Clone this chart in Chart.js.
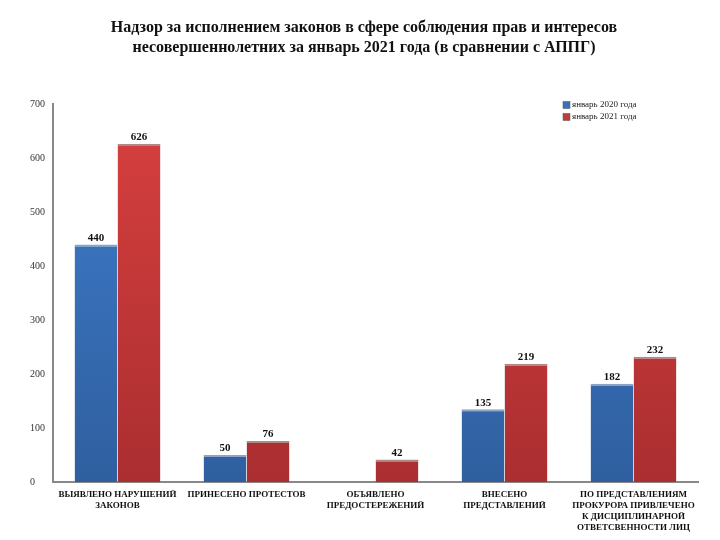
<!DOCTYPE html>
<html>
<head>
<meta charset="utf-8">
<script src="https://cdn.jsdelivr.net/npm/chart.js@4"></script>
<style>
  html, body { margin: 0; padding: 0; background: #fff; }
  #wrap { width: 720px; height: 540px; }
</style>
</head>
<body>
<div id="wrap"><canvas id="chart" width="720" height="540"></canvas></div>
<script>
// данные
const categories = [
  ['ВЫЯВЛЕНО НАРУШЕНИЙ', 'ЗАКОНОВ'],
  ['ПРИНЕСЕНО ПРОТЕСТОВ'],
  ['ОБЪЯВЛЕНО', 'ПРЕДОСТЕРЕЖЕНИЙ'],
  ['ВНЕСЕНО', 'ПРЕДСТАВЛЕНИЙ'],
  ['ПО ПРЕДСТАВЛЕНИЯМ', 'ПРОКУРОРА ПРИВЛЕЧЕНО', 'К ДИСЦИПЛИНАРНОЙ', 'ОТВЕТСВЕННОСТИ ЛИЦ']
];
const seriesNames = ['январь 2020 года', 'январь 2021 года'];
const values2020 = [440, 50, null, 135, 182];
const values2021 = [626, 76, 42, 219, 232];
const yTicks = [0, 100, 200, 300, 400, 500, 600, 700];

const SERIF = '"Liberation Serif", "Times New Roman", serif';

// градиент для столбцов
function barGradient(top, bottom) {
  return (ctx) => {
    const area = ctx.chart.chartArea;
    if (!area) return top;
    const g = ctx.chart.ctx.createLinearGradient(0, area.top, 0, area.bottom);
    g.addColorStop(0, top);
    g.addColorStop(1, bottom);
    return g;
  };
}

// подписи значений над столбцами
const valueLabels = {
  id: 'valueLabels',
  afterDatasetsDraw(chart) {
    const c = chart.ctx;
    c.save();
    c.font = 'bold 11px ' + SERIF;
    c.fillStyle = '#111';
    c.textAlign = 'center';
    c.textBaseline = 'bottom';
    chart.data.datasets.forEach((ds, i) => {
      chart.getDatasetMeta(i).data.forEach((bar, j) => {
        const v = ds.data[j];
        if (v == null) return;
        c.fillText(v, bar.x, bar.y - 1);
      });
    });
    c.restore();
  }
};

// легенда в правом верхнем углу
const cornerLegend = {
  id: 'cornerLegend',
  afterDraw(chart) {
    const c = chart.ctx;
    const a = chart.chartArea;
    const x = a.right - 135;
    c.save();
    c.font = '9px ' + SERIF;
    c.textBaseline = 'middle';
    chart.data.datasets.forEach((ds, i) => {
      const y = a.top + 1 + i * 12;
      c.fillStyle = ds.legendColor;
      c.fillRect(x, y - 3.5, 7, 7);
      c.strokeStyle = '#555';
      c.lineWidth = 0.5;
      c.strokeRect(x, y - 3.5, 7, 7);
      c.fillStyle = '#222';
      c.textAlign = 'left';
      c.fillText(ds.label, x + 9, y);
    });
    c.restore();
  }
};

new Chart(document.getElementById('chart'), {
  type: 'bar',
  data: {
    labels: categories,
    datasets: [
      {
        label: seriesNames[0],
        data: values2020,
        backgroundColor: barGradient('#3f7dcd', '#2f5f9f'),
        legendColor: '#3a70bb',
        borderColor: '#8fa3c2',
        borderWidth: { top: 2, left: 0.5, right: 0.5, bottom: 0 },
        borderSkipped: 'bottom'
      },
      {
        label: seriesNames[1],
        data: values2021,
        backgroundColor: barGradient('#d8403f', '#ab2e30'),
        legendColor: '#c23a3a',
        borderColor: '#b08888',
        borderWidth: { top: 2, left: 0.5, right: 0.5, bottom: 0 },
        borderSkipped: 'bottom'
      }
    ]
  },
  options: {
    responsive: false,
    animation: false,
    layout: { padding: { top: 8, left: 30, right: 22, bottom: 0 } },
    datasets: { bar: { categoryPercentage: 0.667, barPercentage: 1 } },
    plugins: {
      legend: { display: false },
      tooltip: { enabled: false },
      title: {
        display: true,
        text: [
          'Надзор за исполнением законов в сфере соблюдения прав и интересов',
          'несовершеннолетних за январь 2021 года (в сравнении с АППГ)'
        ],
        color: '#111',
        font: { family: SERIF, size: 16, weight: 'bold', lineHeight: 1.25 },
        padding: { top: 10, bottom: 46 }
      }
    },
    scales: {
      x: {
        grid: { display: false, drawTicks: false },
        border: { display: true, color: '#888', width: 2 },
        ticks: {
          color: '#111',
          font: { family: SERIF, size: 9, weight: 'bold', lineHeight: 1.22 },
          padding: 7,
          maxRotation: 0,
          autoSkip: false
        }
      },
      y: {
        min: 0,
        max: 700,
        afterBuildTicks(axis) { axis.ticks = yTicks.map(v => ({ value: v })); },
        grid: { display: false, drawTicks: false },
        border: { display: true, color: '#888', width: 2 },
        ticks: {
          color: '#333',
          font: { family: SERIF, size: 10 },
          padding: 4,
          crossAlign: 'far'
        }
      }
    }
  },
  plugins: [valueLabels, cornerLegend]
});
</script>
</body>
</html>
